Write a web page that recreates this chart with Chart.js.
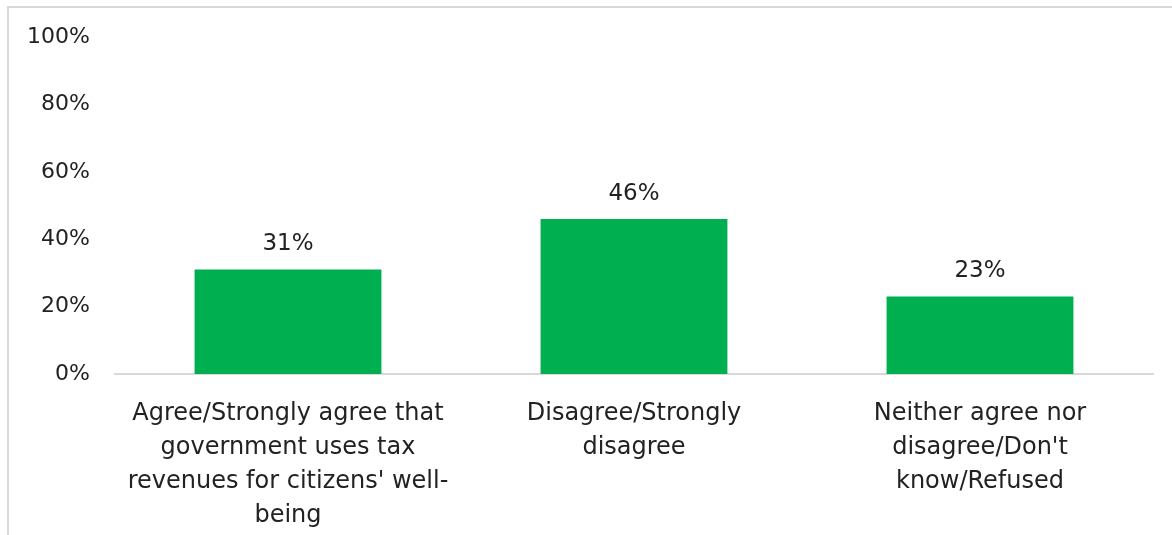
<!DOCTYPE html>
<html lang="en">
<head>
  <meta charset="UTF-8">
  <title>Tax revenues for citizens' well-being</title>
  <style>
    body { margin: 0; background: #fff; }
    .frame {
      position: absolute;
      left: 7px;
      top: 6px;
      width: 1180px;
      height: 560px;
      border-left: 2px solid #d9d9d9;
      border-top: 2px solid #d9d9d9;
      pointer-events: none;
    }
    .chart-container {
      position: absolute;
      left: 0;
      top: 0;
      width: 1172px;
      height: 535px;
    }
  </style>
</head>
<body>
  <div class="chart-container">
    <canvas id="taxChart"></canvas>
  </div>
  <div class="frame"></div>

  <script src="https://cdn.jsdelivr.net/npm/chart.js@4.4.0/dist/chart.umd.min.js"></script>
  <script>
    const categories = [
      ['Agree/Strongly agree that', 'government uses tax', "revenues for citizens' well-", 'being'],
      ['Disagree/Strongly', 'disagree'],
      ['Neither agree nor', "disagree/Don't", 'know/Refused']
    ];
    const values = [31, 46, 23];
    const yTicks = [0, 20, 40, 60, 80, 100];

    const FONT = "'DejaVu Sans', sans-serif";
    const TEXT = '#222222';

    // value labels above the bars
    const barLabels = {
      id: 'barLabels',
      afterDatasetsDraw(chart) {
        const c = chart.ctx;
        const meta = chart.getDatasetMeta(0);
        c.save();
        c.font = '23px ' + FONT;
        c.fillStyle = TEXT;
        c.textAlign = 'center';
        c.textBaseline = 'middle';
        meta.data.forEach((bar, i) => {
          c.fillText(values[i] + '%', bar.x, bar.y - 25);
        });
        c.restore();
      }
    };

    new Chart(document.getElementById('taxChart'), {
      type: 'bar',
      data: {
        labels: categories,
        datasets: [{
          data: values,
          backgroundColor: '#00B050',
          categoryPercentage: 0.54,
          barPercentage: 1
        }]
      },
      options: {
        responsive: true,
        maintainAspectRatio: false,
        animation: false,
        layout: { padding: { top: 37, right: 19, left: 0, bottom: 0 } },
        plugins: {
          legend: { display: false },
          tooltip: { enabled: false }
        },
        scales: {
          y: {
            min: 0,
            max: 100,
            afterBuildTicks(scale) {
              scale.ticks = yTicks.map(v => ({ value: v }));
            },
            afterFit(scale) { scale.width = 115; },
            grid: { display: false },
            border: { display: false },
            ticks: {
              color: TEXT,
              font: { family: FONT, size: 22 },
              padding: 17,
              callback: v => v + '%'
            }
          },
          x: {
            afterFit(scale) { scale.height = 161; },
            grid: { display: false },
            border: { display: true, color: '#d9d9d9', width: 2 },
            ticks: {
              color: TEXT,
              font: { family: FONT, size: 24, lineHeight: '34px' },
              padding: 15,
              maxRotation: 0,
              autoSkip: false
            }
          }
        }
      },
      plugins: [barLabels]
    });
  </script>
</body>
</html>
